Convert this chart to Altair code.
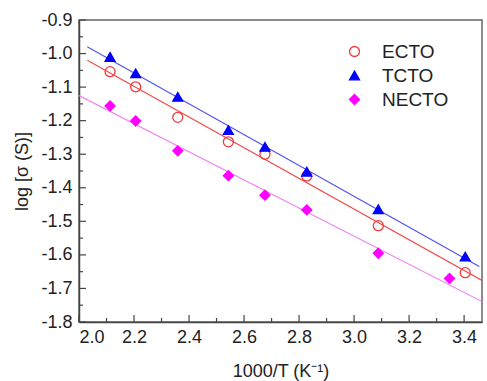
import altair as alt
import pandas as pd

# Data
x_vals = [2.113, 2.206, 2.359, 2.543, 2.676, 2.828, 3.088, 3.404]
ecto = [-1.054, -1.099, -1.190, -1.263, -1.300, -1.365, -1.513, -1.653]
tcto = [-1.010, -1.059, -1.129, -1.228, -1.278, -1.352, -1.464, -1.605]
necto_x = [2.113, 2.206, 2.359, 2.543, 2.676, 2.828, 3.088, 3.347]
necto = [-1.156, -1.201, -1.290, -1.364, -1.422, -1.466, -1.595, -1.670]

series = ["ECTO", "TCTO", "NECTO"]
x_major = [2.0, 2.2, 2.4, 2.6, 2.8, 3.0, 3.2, 3.4]
x_minor = [2.1, 2.3, 2.5, 2.7, 2.9, 3.1, 3.3]
y_major = [-0.9, -1.0, -1.1, -1.2, -1.3, -1.4, -1.5, -1.6, -1.7, -1.8]
y_minor = [-0.95, -1.05, -1.15, -1.25, -1.35, -1.45, -1.55, -1.65, -1.75]

rows = []
for xv, yv in zip(x_vals, ecto):
    rows.append({"x": xv, "y": yv, "s": "ECTO"})
for xv, yv in zip(x_vals, tcto):
    rows.append({"x": xv, "y": yv, "s": "TCTO"})
for xv, yv in zip(necto_x, necto):
    rows.append({"x": xv, "y": yv, "s": "NECTO"})
df = pd.DataFrame(rows)

W, H = 403, 302
xdom = [2.0, 3.465]
ydom = [-1.8, -0.9]
FONT = "Liberation Sans"

xs = alt.Scale(domain=xdom, nice=False, zero=False)
ys = alt.Scale(domain=ydom, nice=False, zero=False)

lab = "replace(format(datum.value, '.1f'), '\u2212', '-')"
x_axis = alt.Axis(values=x_major, labelExpr=lab, title="1000/T (K⁻¹)",
                  ticks=False, labelPadding=6, titlePadding=16, labelOverlap=False,
                  domainColor="#444", domainWidth=1.5, grid=False)
y_axis = alt.Axis(values=y_major, labelExpr=lab, title="log [σ (S)]",
                  ticks=False, labelPadding=7, titlePadding=9, labelOverlap=False,
                  domainColor="#444", domainWidth=1.5, grid=False)

points = alt.Chart(df).mark_point(size=100, strokeWidth=1.3, opacity=1).encode(
    x=alt.X("x:Q", scale=xs, axis=x_axis),
    y=alt.Y("y:Q", scale=ys, axis=y_axis),
    shape=alt.Shape("s:N", scale=alt.Scale(domain=series, range=["circle", "triangle-up", "diamond"]),
                    legend=alt.Legend(title=None)),
    fill=alt.Fill("s:N", scale=alt.Scale(domain=series, range=["transparent", "#0000ff", "#ff00ff"]),
                  legend=alt.Legend(title=None)),
    stroke=alt.Stroke("s:N", scale=alt.Scale(domain=series, range=["#f03c3c", "#0000ff", "#ff00ff"]),
                      legend=alt.Legend(title=None)),
)

line_specs = [("TCTO", "#5050f0", [2.03, 3.455]),
              ("ECTO", "#f04848", [2.03, 3.465]),
              ("NECTO", "#f080f0", [2.0, 3.465])]
lines = []
for name, col, ext in line_specs:
    lines.append(
        alt.Chart(df).transform_filter(alt.datum.s == name)
        .transform_regression("x", "y", extent=ext)
        .mark_line(color=col, strokeWidth=1.1, clip=True)
        .encode(x=alt.X("x:Q", scale=xs, axis=x_axis), y=alt.Y("y:Q", scale=ys, axis=y_axis))
    )

xmaj = alt.Chart(pd.DataFrame({"v": x_major})).mark_rule(color="#444", strokeWidth=1.2).encode(
    x=alt.X("v:Q", scale=xs, axis=x_axis), y=alt.value(H), y2=alt.value(H - 7))
xmin = alt.Chart(pd.DataFrame({"v": x_minor})).mark_rule(color="#444", strokeWidth=1.2).encode(
    x=alt.X("v:Q", scale=xs, axis=x_axis), y=alt.value(H), y2=alt.value(H - 4))
ymaj = alt.Chart(pd.DataFrame({"v": y_major})).mark_rule(color="#444", strokeWidth=1.2).encode(
    y=alt.Y("v:Q", scale=ys, axis=y_axis), x=alt.value(0), x2=alt.value(7))
ymin = alt.Chart(pd.DataFrame({"v": y_minor})).mark_rule(color="#444", strokeWidth=1.2).encode(
    y=alt.Y("v:Q", scale=ys, axis=y_axis), x=alt.value(0), x2=alt.value(4))

chart = alt.layer(*lines, points, xmaj, xmin, ymaj, ymin).properties(
    width=W, height=H,
    autosize=alt.AutoSizeParams(type="none"),
    padding={"left": 79, "top": 20, "right": 5, "bottom": 59},
).configure_view(
    stroke="#666", strokeWidth=1.5
).configure_axis(
    labelFont=FONT, titleFont=FONT, labelFontSize=18, titleFontSize=18,
    labelColor="#222", titleColor="#222", titleFontWeight="normal"
).configure_legend(
    orient="none", legendX=266, legendY=22, labelFont=FONT, labelFontSize=19,
    labelColor="#222", symbolSize=100, symbolStrokeWidth=1.3, labelOffset=18,
    rowPadding=4, padding=0
)

chart.save("out.html", embed_options={"renderer": "svg", "actions": False})
